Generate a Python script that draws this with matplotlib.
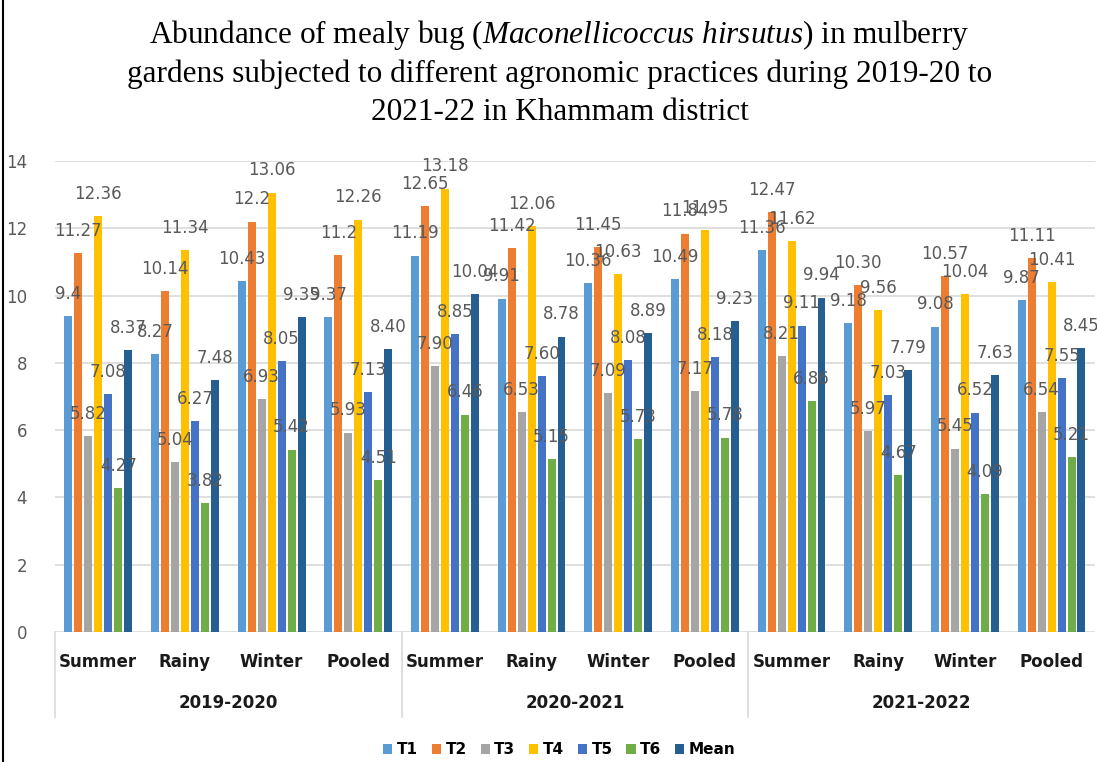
import matplotlib as mpl
import matplotlib.pyplot as plt
import matplotlib.transforms as mtransforms
from matplotlib.lines import Line2D
import numpy as np

mpl.rcParams.update({
    "font.family": ["DejaVu Sans"],
    "mathtext.fontset": "custom",
    "mathtext.rm": "Liberation Serif",
    "mathtext.it": "Liberation Serif:italic",
})

years = ["2019-2020", "2020-2021", "2021-2022"]
seasons = ["Summer", "Rainy", "Winter", "Pooled"]
series = ["T1", "T2", "T3", "T4", "T5", "T6", "Mean"]
colors = ["#5B9BD5", "#ED7D31", "#A5A5A5", "#FFC000", "#4472C4", "#70AD47", "#255E91"]

# values per category (year x season), order T1..T6, Mean
t1 = [9.4, 8.27, 10.43, 9.37, 11.19, 9.91, 10.36, 10.49, 11.36, 9.18, 9.08, 9.87]
t2 = [11.27, 10.14, 12.2, 11.2, 12.65, 11.42, 11.45, 11.84, 12.47, 10.30, 10.57, 11.11]
t3 = [5.82, 5.04, 6.93, 5.93, 7.90, 6.53, 7.09, 7.17, 8.21, 5.97, 5.45, 6.54]
t4 = [12.36, 11.34, 13.06, 12.26, 13.18, 12.06, 10.63, 11.95, 11.62, 9.56, 10.04, 10.41]
t5 = [7.08, 6.27, 8.05, 7.13, 8.85, 7.60, 8.08, 8.18, 9.11, 7.03, 6.52, 7.55]
t6 = [4.27, 3.82, 5.42, 4.51, 6.46, 5.15, 5.73, 5.78, 6.86, 4.67, 4.09, 5.21]
mean = [8.37, 7.48, 9.35, 8.40, 10.04, 8.78, 8.89, 9.23, 9.94, 7.79, 7.63, 8.45]
# label text as printed in the chart
lab_t1 = ["9.4", "8.27", "10.43", "9.37", "11.19", "9.91", "10.36", "10.49", "11.36", "9.18", "9.08", "9.87"]
lab_t2 = ["11.27", "10.14", "12.2", "11.2", "12.65", "11.42", "11.45", "11.84", "12.47", "10.30", "10.57", "11.11"]

values = [t1, t2, t3, t4, t5, t6, mean]
labels = [lab_t1, lab_t2] + [[f"{v:.2f}" for v in s] for s in values[2:]]

fig = plt.figure(figsize=(10.97, 7.62), dpi=100)
ax = fig.add_axes([0.0501, 0.1706, 0.948, 0.6181])

x = np.arange(len(t1))
step, width = 0.115, 0.092
for i, (vals, labs, col, name) in enumerate(zip(values, labels, colors, series)):
    xs = x + (i - 3) * step
    ax.bar(xs, vals, width=width, color=col, label=name, zorder=3)
    for xi, v, s in zip(xs, vals, labs):
        ax.annotate(s, (xi, v), xytext=(0, 9.5), textcoords="offset points",
                    ha="center", va="bottom", fontsize=12, color="#595959", zorder=4,
                    annotation_clip=False)

ax.set_xlim(-0.5, 11.5)
ax.set_ylim(0, 14)
ax.set_yticks(range(0, 15, 2))
ax.yaxis.grid(True, color="#d9d9d9", lw=1.2, zorder=0)
ax.set_axisbelow(True)
for sp in ax.spines.values():
    sp.set_visible(False)
ax.tick_params(axis="y", length=0, pad=20, labelsize=12, labelcolor="#595959")
ax.set_xticks(x)
ax.set_xticklabels(seasons * 3, fontsize=12, fontweight="bold", color="#1a1a1a",
                   family=["Liberation Sans Narrow", "DejaVu Sans"])
ax.tick_params(axis="x", length=0, pad=15)

trans = mtransforms.blended_transform_factory(ax.transData, ax.transAxes)
for k, yr in enumerate(years):
    ax.text(k * 4 + 1.5, -0.151, yr, transform=trans, ha="center", va="center",
            fontsize=12, fontweight="bold", color="#1a1a1a",
            family=["Liberation Sans Narrow", "DejaVu Sans"])
for xb in [-0.5, 3.5, 7.5]:
    ax.add_line(Line2D([xb, xb], [0, -0.18], transform=trans, color="#d9d9d9",
                       lw=1.2, clip_on=False))

handles, names = ax.get_legend_handles_labels()
leg = fig.legend(handles, names, loc="center", bbox_to_anchor=(0.51, 0.016), ncol=7,
                 frameon=False, handlelength=0.6, handleheight=0.6, handletextpad=0.3,
                 columnspacing=0.9, prop={"size": 11, "weight": "bold",
                                          "family": ["Liberation Sans Narrow", "DejaVu Sans"]})

title_lines = [
    r"Abundance of mealy bug ($\mathit{Maconellicoccus\ hirsutus}$) in mulberry",
    "gardens subjected to different agronomic practices during 2019-20 to",
    "2021-22 in Khammam district",
]
for j, (line, yp) in enumerate(zip(title_lines, [727, 688, 650])):
    fig.text(0.51, yp / 762, line, ha="center", va="center", fontsize=22.5,
             family="Liberation Serif", color="black")

fig.add_artist(Line2D([0.003, 0.003], [0, 1], transform=fig.transFigure, color="black", lw=1.5))

fig.savefig("out.png", dpi=100)
